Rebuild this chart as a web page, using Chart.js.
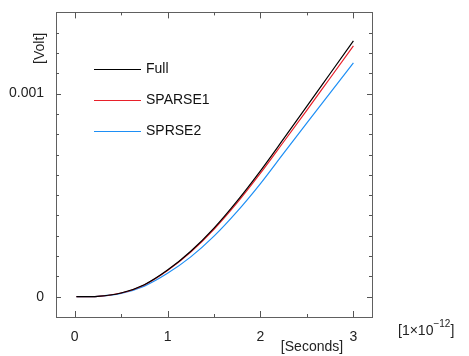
<!DOCTYPE html>
<html>
<head>
<meta charset="utf-8">
<script src="https://cdn.jsdelivr.net/npm/chart.js@4.4.1/dist/chart.umd.min.js"></script>
<style>
    html, body { margin: 0; padding: 0; background: #fff; }
    #wrap { width: 469px; height: 356px; }
</style>
</head>
<body>
<div id="wrap"><canvas id="voltChart" width="469" height="356"></canvas></div>
<script>

/* ===============================
   data
=============================== */

const timeValues = [0.02, 0.25, 0.5, 0.75, 1.0, 1.25, 1.5, 1.75, 2.0, 2.25, 2.5, 2.75, 3.0];

const fullValues = [0, 0.000002, 0.000018, 0.000059, 0.000131, 0.000224, 0.000338, 0.000472, 0.000620, 0.000778, 0.000938, 0.001099, 0.001260];
const sparse1Values = [0, 0.000002, 0.000018, 0.000058, 0.000129, 0.000220, 0.000332, 0.000463, 0.000608, 0.000763, 0.000919, 0.001077, 0.001235];
const sparse2Values = [0, 0.000002, 0.000016, 0.000052, 0.000115, 0.000196, 0.000298, 0.000420, 0.000557, 0.000707, 0.000856, 0.001004, 0.001152];

const seriesNames = ["Full", "SPARSE1", "SPRSE2"];

const xTickValues = [0, 1, 2, 3];
const xTickLabels = ["0", "1", "2", "3"];
const xMinorTicks = [0.5, 1.5, 2.5];

const yTickValues = [0, 0.001];
const yTickLabels = ["0", "0.001"];
const yMinorTicks = [0.0001, 0.0002, 0.0003, 0.0004, 0.0005, 0.0006, 0.0007, 0.0008, 0.0009, 0.0011, 0.0012, 0.0013];

const FONT = "'Liberation Sans', Arial, Helvetica, sans-serif";

function toPoints(values) {
    return timeValues.map((t, i) => ({ x: t, y: values[i] }));
}


/* ===============================
   frame, inward ticks, legend, titles
=============================== */

const framePlugin = {
    id: "framePlugin",
    afterDraw(chart) {
        const ctx = chart.ctx;
        const a = chart.chartArea;
        const xs = chart.scales.x;
        const ys = chart.scales.y;

        ctx.save();

        // frame
        ctx.strokeStyle = "#606060";
        ctx.lineWidth = 1;
        ctx.strokeRect(Math.round(a.left) + 0.5, Math.round(a.top) + 0.5,
            Math.round(a.right - a.left), Math.round(a.bottom - a.top));

        // ticks pointing inward on all four sides
        ctx.strokeStyle = "#555";
        ctx.beginPath();
        const xTick = (v, len) => {
            const px = Math.round(xs.getPixelForValue(v)) + 0.5;
            ctx.moveTo(px, a.bottom); ctx.lineTo(px, a.bottom - len);
            ctx.moveTo(px, a.top); ctx.lineTo(px, a.top + len);
        };
        const yTick = (v, len) => {
            const py = Math.round(ys.getPixelForValue(v)) + 0.5;
            ctx.moveTo(a.left, py); ctx.lineTo(a.left + len, py);
            ctx.moveTo(a.right, py); ctx.lineTo(a.right - len, py);
        };
        xTickValues.forEach(v => xTick(v, 6));
        xMinorTicks.forEach(v => xTick(v, 3));
        yTickValues.forEach(v => yTick(v, 5));
        yMinorTicks.forEach(v => yTick(v, 3));
        ctx.stroke();

        // legend inside the plot
        ctx.font = "14px " + FONT;
        ctx.textBaseline = "middle";
        ctx.textAlign = "left";
        chart.data.datasets.forEach((ds, i) => {
            const y = Math.round(a.top + 57 + i * 31) + 0.5;
            ctx.strokeStyle = ds.borderColor;
            ctx.lineWidth = 1.2;
            ctx.beginPath();
            ctx.moveTo(a.left + 38, y);
            ctx.lineTo(a.left + 85, y);
            ctx.stroke();
            ctx.fillStyle = "#111";
            ctx.fillText(ds.label, a.left + 90, y);
        });

        // y title
        ctx.fillStyle = "#222";
        ctx.save();
        ctx.translate(a.left - 15.5, a.top + 36);
        ctx.rotate(-Math.PI / 2);
        ctx.textAlign = "center";
        ctx.fillText("[Volt]", 0, 0);
        ctx.restore();

        // x title and multiplier
        ctx.textAlign = "center";
        ctx.fillText("[Seconds]", 312, 347);

        ctx.textAlign = "left";
        let x0 = 398;
        const part1 = "[1\u00d710";
        ctx.fillText(part1, x0, 331);
        x0 += ctx.measureText(part1).width;
        ctx.font = "10px " + FONT;
        ctx.fillText("\u221212", x0, 324);
        x0 += ctx.measureText("\u221212").width;
        ctx.font = "14px " + FONT;
        ctx.fillText("]", x0, 331);

        ctx.restore();
    }
};


/* ===============================
   chart
=============================== */

const canvas = document.getElementById("voltChart");
const ctx = canvas.getContext("2d");

new Chart(ctx, {

    type: "line",

    data: {
        datasets: [
            { label: seriesNames[0], data: toPoints(fullValues), borderColor: "#000000" },
            { label: seriesNames[1], data: toPoints(sparse1Values), borderColor: "#e8202a" },
            { label: seriesNames[2], data: toPoints(sparse2Values), borderColor: "#1e8ff5" }
        ].map(ds => Object.assign(ds, {
            borderWidth: 1.2,
            pointRadius: 0,
            fill: false,
            cubicInterpolationMode: "monotone"
        }))
    },

    options: {
        responsive: false,
        animation: false,
        events: [],
        layout: { padding: { left: 0, right: 97, top: 9, bottom: 0 } },
        plugins: {
            legend: { display: false },
            tooltip: { enabled: false }
        },
        scales: {
            x: {
                type: "linear",
                min: -0.2,
                max: 3.2,
                grid: { display: false },
                border: { display: false },
                afterBuildTicks: scale => { scale.ticks = xTickValues.map(v => ({ value: v })); },
                afterFit: scale => { scale.height = 39; },
                ticks: {
                    maxRotation: 0,
                    autoSkip: false,
                    padding: 4,
                    color: "#222",
                    font: { family: FONT, size: 14 },
                    callback: (v) => xTickLabels[xTickValues.indexOf(v)]
                }
            },
            y: {
                type: "linear",
                min: -0.0001,
                max: 0.0014,
                grid: { display: false },
                border: { display: false },
                afterBuildTicks: scale => { scale.ticks = yTickValues.map(v => ({ value: v })); },
                afterFit: scale => { scale.width = 56; },
                ticks: {
                    autoSkip: false,
                    padding: 4,
                    color: "#222",
                    font: { family: FONT, size: 14 },
                    callback: (v) => yTickLabels[yTickValues.indexOf(v)]
                }
            }
        }
    },

    plugins: [framePlugin]

});

</script>
</body>
</html>
